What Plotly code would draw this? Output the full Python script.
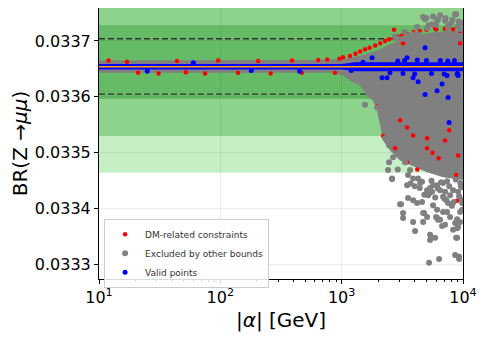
import plotly.graph_objects as go

# reference values
sm_br = 0.033654
exp_br = 0.033662
exp_sigma = 0.000066
theory_lo = 0.033605
theory_hi = 0.033704

x_tickvals = [10, 100, 1000, 10000]
x_ticktext = ["10<sup>1</sup>", "10<sup>2</sup>", "10<sup>3</sup>", "10<sup>4</sup>"]
y_tickvals = [0.0333, 0.0334, 0.0335, 0.0336, 0.0337]

# dense cloud of excluded points (outline of the region)
env_alpha_up = [10, 100, 500, 800, 1027, 1500, 2000, 2500, 3000, 3500, 4500, 6000, 8000, 10000]
env_br_up = [0.033665, 0.033665, 0.033666, 0.033667, 0.033668, 0.033675, 0.033684, 0.033694,
             0.033700, 0.033706, 0.033712, 0.033716, 0.033718, 0.033718]
env_alpha_lo = [10, 500, 802, 1027, 1173, 1418, 1620, 1815, 1958, 2074, 2194, 2506, 3030, 3663,
                5058, 6853, 10000]
env_br_lo = [0.033643, 0.033643, 0.033643, 0.033638, 0.033629, 0.033620, 0.033602, 0.033593,
             0.033575, 0.033549, 0.033522, 0.033504, 0.033486, 0.033478, 0.033465, 0.033456,
             0.033451]

# core of valid points
core_alpha = [10, 1000, 1300, 10000]
core_br_up = [0.033659, 0.033659, 0.033662, 0.033662]
core_br_lo = [0.033649, 0.033649, 0.033646, 0.033646]

# DM-related constraints
red_alpha = [12, 17, 21, 31, 44, 52, 75, 96, 140, 205, 260, 390, 470, 640, 760, 880, 960,
             1027, 1170, 1300, 1420, 1560, 1700, 1890, 2080, 2280, 2460, 2700, 2900, 3150, 3450,
             3900, 4400, 5000, 6000, 7100, 8300, 9500,
             2704, 3879, 5888, 6000, 9464, 3206,
             1958, 2154, 2756, 3460, 5058, 8773, 3030, 3460, 3879, 5058, 7119, 9112, 8942, 2194,
             4200, 6300, 7700, 5600]
red_br = [0.033665, 0.033663, 0.033643, 0.033642, 0.033664, 0.033644, 0.033642, 0.033665,
          0.033643, 0.033664, 0.033642, 0.033665, 0.033643, 0.033666, 0.033667, 0.033643,
          0.033668,
          0.033671, 0.033673, 0.033677, 0.033681, 0.033685, 0.033688, 0.033692, 0.033696,
          0.033700, 0.033703, 0.033706, 0.033708, 0.033710, 0.033713, 0.033716, 0.033718,
          0.033720, 0.033721, 0.033722, 0.033721, 0.033718,
          0.033720, 0.033712, 0.033723, 0.033721, 0.033696, 0.033696,
          0.033583, 0.033575, 0.033508, 0.033483, 0.033508, 0.033460, 0.033558, 0.033545,
          0.033531, 0.033526, 0.033522, 0.033495, 0.033414, 0.033530,
          0.033470, 0.033490, 0.033540, 0.033500]

# excluded by other bounds (outliers of the cloud)
gray_alpha = [4690, 5667, 6474, 7536, 8609, 4184, 4870, 6116, 6233, 7119, 8773, 7536, 9464, 5058,
              5562, 4265, 3879, 3527, 2862, 9831, 8000, 3200, 5200, 9000,
              1559, 1958, 2154, 2367, 2279, 2459, 2459, 2413, 2654, 3146, 3146, 3331, 3663, 3527,
              3879, 4265, 2603, 5355, 6116,
              2603, 3030, 3527, 3879, 4184, 4028, 4690, 4690, 5154, 5355, 5355, 5253, 5667, 6116,
              6116, 6353, 6474, 6725, 7119, 7394, 7536, 7827, 8285, 8609, 8609, 8942, 9112, 9287,
              9464, 9831, 3460, 4430, 5667, 6853, 8285, 6474, 5058, 3087, 3206, 3206, 4601, 3879,
              4778, 5058, 5457, 5888, 6000, 6233, 6853, 8942, 8942, 8773, 9464, 9287, 5562, 6853,
              7119, 7827, 9112, 9831, 9831, 4000, 4800, 5900, 7300, 8100, 9600, 3700, 2900,
              4400, 5300, 6200, 7000, 7700, 8400, 9300, 9900, 4600, 5500, 6600, 7400, 8700, 9500,
              5000, 6000, 7200, 8200, 9200, 3300, 2750]
gray_br = [0.033743, 0.033744, 0.033746, 0.033727, 0.033748, 0.033725, 0.033739, 0.033736,
           0.033739, 0.033736, 0.033748, 0.033723, 0.033721, 0.033723, 0.033730, 0.033712,
           0.033712, 0.033709, 0.033704, 0.033732, 0.033732, 0.033704, 0.033728, 0.033726,
           0.033586, 0.033581, 0.033575, 0.033543, 0.033526, 0.033513, 0.033483, 0.033469,
           0.033492, 0.033501, 0.033492, 0.033483, 0.033469, 0.033460, 0.033454, 0.033454,
           0.033454, 0.033437, 0.033442,
           0.033453, 0.033408, 0.033419, 0.033415, 0.033410, 0.033360, 0.033392, 0.033376,
           0.033424, 0.033353, 0.033344, 0.033303, 0.033406, 0.033398, 0.033383, 0.033310,
           0.033380, 0.033369, 0.033371, 0.033394, 0.033410, 0.033385, 0.033362, 0.033374,
           0.033317, 0.033348, 0.033367, 0.033310, 0.033394, 0.033410, 0.033442, 0.033446,
           0.033442, 0.033446, 0.033433, 0.033433, 0.033433, 0.033408, 0.033392, 0.033383,
           0.033412, 0.033376, 0.033392, 0.033385, 0.033348, 0.033348, 0.033385, 0.033380,
           0.033394, 0.033381, 0.033365, 0.033348, 0.033376, 0.033314, 0.033430, 0.033421,
           0.033430, 0.033424, 0.033430, 0.033415, 0.033398, 0.033440, 0.033425, 0.033420,
           0.033415, 0.033405, 0.033440, 0.033445, 0.033470,
           0.033437, 0.033428, 0.033436, 0.033418, 0.033440, 0.033412, 0.033422, 0.033438,
           0.033448, 0.033450, 0.033447, 0.033449, 0.033452, 0.033446,
           0.033741, 0.033729, 0.033741, 0.033738, 0.033735, 0.033716, 0.033708]

# valid points
blue_alpha = [1781, 4870, 3460, 2154, 2367, 3879, 4265, 4870, 6116, 6725, 7536, 7680, 7394, 9112,
              8942, 2900, 3300, 4200, 5000, 6500, 7500, 8500, 2500, 3200, 4000, 5500, 7000, 9000,
              1500, 1200, 25, 60, 180, 450]
blue_br = [0.033670, 0.033688, 0.033670, 0.033634, 0.033634, 0.033634, 0.033627, 0.033604,
           0.033611, 0.033623, 0.033599, 0.033554, 0.033638, 0.033638, 0.033641, 0.033664,
           0.033665, 0.033666, 0.033665, 0.033665, 0.033664, 0.033665, 0.033643, 0.033642,
           0.033641, 0.033642, 0.033641, 0.033642, 0.033662, 0.033647, 0.033646, 0.033661,
           0.033647, 0.033646]

fig = go.Figure()

fig.add_trace(go.Scatter(x=env_alpha_up + env_alpha_lo[::-1], y=env_br_up + env_br_lo[::-1],
                         fill="toself", fillcolor="#808080", mode="lines", line=dict(width=0),
                         showlegend=False, hoverinfo="skip"))
fig.add_trace(go.Scatter(x=red_alpha, y=red_br, mode="markers", name="DM-related constraints",
                         marker=dict(color="red", size=4.5)))
fig.add_trace(go.Scatter(x=gray_alpha, y=gray_br, mode="markers", name="Excluded by other bounds",
                         marker=dict(color="#808080", size=6)))
fig.add_trace(go.Scatter(x=core_alpha + core_alpha[::-1], y=core_br_up + core_br_lo[::-1],
                         fill="toself", fillcolor="blue", mode="lines", line=dict(width=0),
                         showlegend=False, hoverinfo="skip"))
fig.add_trace(go.Scatter(x=blue_alpha, y=blue_br, mode="markers", name="Valid points",
                         marker=dict(color="blue", size=5)))
fig.add_trace(go.Scatter(x=[10, 10000], y=[sm_br, sm_br], mode="lines", showlegend=False,
                         line=dict(color="orange", width=1.5), hoverinfo="skip"))

band_colors = {3: "#c5efc5", 2: "#8dd38b", 1: "#66bb66"}
for k in (3, 2, 1):
    fig.add_shape(type="rect", xref="paper", x0=0, x1=1,
                  y0=exp_br - k * exp_sigma, y1=exp_br + k * exp_sigma,
                  fillcolor=band_colors[k], line=dict(width=0), layer="below")
for yv in (theory_lo, theory_hi):
    fig.add_shape(type="line", xref="paper", x0=0, x1=1, y0=yv, y1=yv,
                  line=dict(color="#333333", width=1.3, dash="6px,3px"), layer="below")

# page body keeps an 8px margin, so the figure is a bit smaller than the window
fig.update_layout(
    width=477, height=331,
    margin=dict(l=91, r=22, t=0, b=60),
    paper_bgcolor="white", plot_bgcolor="white",
    font=dict(family="DejaVu Sans", color="black"),
    legend=dict(x=0.014, y=0.222, xanchor="left", yanchor="top",
                font=dict(size=9, color="#333333"), bgcolor="rgba(255,255,255,0.85)",
                bordercolor="#cccccc", borderwidth=1, tracegroupgap=0, itemsizing="trace"),
)
fig.update_xaxes(type="log", range=[1, 4], tickvals=x_tickvals, ticktext=x_ticktext,
                 automargin=False,
                 showline=True, mirror=True, linecolor="black", linewidth=1,
                 ticks="outside", ticklen=4, tickcolor="black", tickfont=dict(size=16),
                 showgrid=True, gridcolor="rgba(0,0,0,0.07)", gridwidth=0.8, zeroline=False,
                 minor=dict(ticks="outside", ticklen=2, tickcolor="black", showgrid=False,
                            tickvals=[a * m for m in (10, 100, 1000) for a in range(2, 10)]),
                 title=dict(text="|<i>α</i>| [GeV]", font=dict(size=20), standoff=6))
fig.update_yaxes(range=[0.033274, 0.033759], automargin=False,
                 tickvals=y_tickvals, tickformat=".4f",
                 showline=True, mirror=True, linecolor="black", linewidth=1,
                 ticks="outside", ticklen=4, tickcolor="black", tickfont=dict(size=16),
                 showgrid=True, gridcolor="rgba(0,0,0,0.07)", gridwidth=0.8, zeroline=False,
                 title=dict(text="BR(Z →<i>μμ</i>)", font=dict(size=20), standoff=6))

fig.write_html("out.html")
